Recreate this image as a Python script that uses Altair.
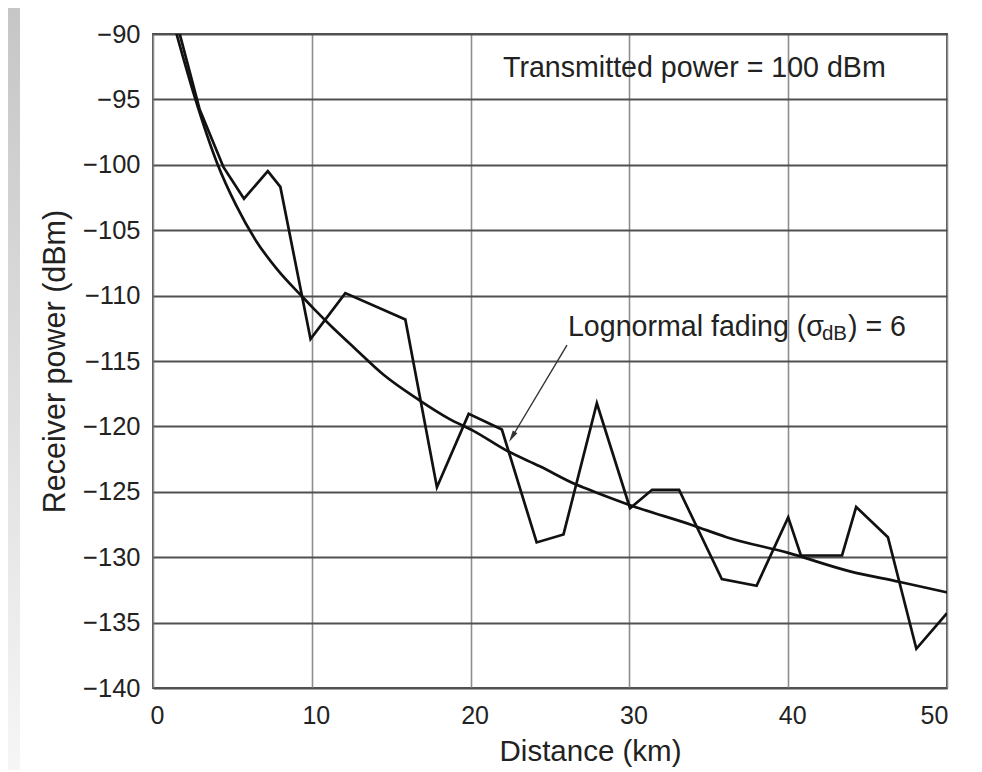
import altair as alt
import pandas as pd

# ---- data ----
dist_fading = [1.65, 2.94, 4.44, 5.73, 7.23, 8.02, 9.92, 12.11, 15.89, 17.88, 19.88, 21.97, 24.16,
               25.85, 27.95, 30.04, 31.43, 33.13, 35.82, 38.01, 40.0, 40.8, 43.39, 44.28, 46.28,
               48.07, 50.0]
power_fading = [-89.85, -95.77, -100.18, -102.59, -100.48, -101.69, -113.32, -109.81, -111.82,
                -124.65, -119.04, -120.24, -128.87, -128.26, -118.23, -126.26, -124.85, -124.85,
                -131.68, -132.18, -126.96, -129.87, -129.87, -126.16, -128.47, -137.0, -134.28]

dist_mean = [1.45, 2.64, 4.04, 5.23, 6.43, 7.82, 9.42, 10.21, 11.21, 12.7, 14.5, 16.69, 18.68,
             20.18, 22.27, 24.36, 26.65, 28.15, 30.14, 34.02, 36.12, 40.0, 43.89, 46.97, 50.0]
power_mean = [-89.85, -94.87, -99.88, -103.09, -105.7, -108.0, -110.11, -111.11, -112.32, -114.02,
              -116.03, -117.93, -119.44, -120.34, -121.85, -123.05, -124.45, -125.16, -126.06,
              -127.57, -128.47, -129.67, -131.08, -131.88, -132.69]

x_ticks = [0, 10, 20, 30, 40, 50]
y_ticks = [-140, -135, -130, -125, -120, -115, -110, -105, -100, -95, -90]

note_tx = "Transmitted power = 100 dBm"
note_fade = ["Lognormal fading (σ", "dB", ") = 6"]
arrow_from = (26.07, -113.78)
arrow_to = (22.61, -120.81)

FONT = "Liberation Sans"
TXT = "#222222"

fading_df = pd.DataFrame({"d": dist_fading, "p": power_fading})
mean_df = pd.DataFrame({"d": dist_mean, "p": power_mean})

xscale = alt.Scale(domain=[0, 50], nice=False, zero=False)
yscale = alt.Scale(domain=[-140, -90], nice=False, zero=False)

xaxis = alt.Axis(values=x_ticks, title="Distance (km)", grid=True, gridColor="#8e8e8e",
                 gridWidth=1.6, ticks=False, tickSize=0, domain=False, labelFont=FONT,
                 labelFontSize=25, labelColor=TXT, labelPadding=15, labelFlush=False,
                 labelOffset={"condition": {"test": "datum.value == 50", "value": -13},
                              "value": 4},
                 titleFont=FONT, titleFontSize=29.5, titleFontWeight="normal", titleColor=TXT,
                 titleX=437, titleY=72, titleBaseline="alphabetic", titleAnchor="middle")
yaxis = alt.Axis(values=y_ticks, title="Receiver power (dBm)", grid=True, gridColor="#505050",
                 gridWidth=2, ticks=False, tickSize=0, domain=False, labelFont=FONT,
                 labelFontSize=25.5, labelColor=TXT, labelPadding=13, titleFont=FONT,
                 titleFontSize=30.5, titleFontWeight="normal", titleColor=TXT,
                 titleX=-98, titleBaseline="middle")

base_x = alt.X("d:Q", scale=xscale, axis=xaxis)
base_y = alt.Y("p:Q", scale=yscale, axis=yaxis)

# decorative grey side strip of the framed figure
strip = alt.Chart(alt.Data(values=[{}])).mark_rect(
    clip=False,
    fill=alt.Gradient(gradient="linear", x1=0, x2=0, y1=0, y2=1,
                      stops=[alt.GradientStop(color="#c6c6c6", offset=0),
                             alt.GradientStop(color="#f6f6f6", offset=1)])
).encode(x=alt.value(-145), x2=alt.value(-133), y=alt.value(-26), y2=alt.value(740))

mean_line = alt.Chart(mean_df).mark_line(color="#111111", strokeWidth=2.7, clip=True,
                                         interpolate="monotone").encode(x=base_x, y=base_y)
fade_line = alt.Chart(fading_df).mark_line(color="#111111", strokeWidth=2.7, clip=True,
                                           strokeJoin="miter").encode(x="d:Q", y="p:Q")

arrow_df = pd.DataFrame({"d": [arrow_from[0]], "p": [arrow_from[1]],
                         "d2": [arrow_to[0]], "p2": [arrow_to[1]]})
arrow_line = alt.Chart(arrow_df).mark_rule(color="#333333", strokeWidth=1.4).encode(
    x="d:Q", y="p:Q", x2="d2:Q", y2="p2:Q")
arrow_head = alt.Chart(pd.DataFrame({"d": [arrow_to[0]], "p": [arrow_to[1]]})).mark_point(
    shape="M0,-1L0.45,1L-0.45,1Z", filled=True, color="#333333", size=140, angle=211,
    opacity=1).encode(x="d:Q", y="p:Q")

tx_text = alt.Chart(pd.DataFrame({"d": [22.04], "p": [-92.6], "t": [note_tx]})).mark_text(
    font=FONT, fontSize=28.6, color=TXT, align="left", baseline="middle").encode(
    x="d:Q", y="p:Q", text="t:N")

fade_df = pd.DataFrame({"d": [26.13] * 3, "p": [-112.4] * 3, "t": note_fade})
fade_a = alt.Chart(fade_df.iloc[[0]]).mark_text(
    font=FONT, fontSize=28.6, color=TXT, align="left", baseline="middle").encode(
    x="d:Q", y="p:Q", text="t:N")
fade_b = alt.Chart(fade_df.iloc[[1]]).mark_text(
    font=FONT, fontSize=20.5, color=TXT, align="left", baseline="middle", dx=254, dy=7).encode(
    x="d:Q", y="p:Q", text="t:N")
fade_c = alt.Chart(fade_df.iloc[[2]]).mark_text(
    font=FONT, fontSize=28.6, color=TXT, align="left", baseline="middle", dx=280).encode(
    x="d:Q", y="p:Q", text="t:N")

chart = alt.layer(
    mean_line, fade_line, arrow_line, arrow_head, tx_text, fade_a, fade_b, fade_c, strip
).properties(
    width=794, height=654,
    padding={"left": 145, "top": 26, "right": 27, "bottom": 82},
    autosize=alt.AutoSizeParams(type="none"),
    background="white",
).configure_view(
    stroke="#505050", strokeWidth=2, fill="white"
)

chart.save("out.html", embed_options={"renderer": "svg", "actions": False})
